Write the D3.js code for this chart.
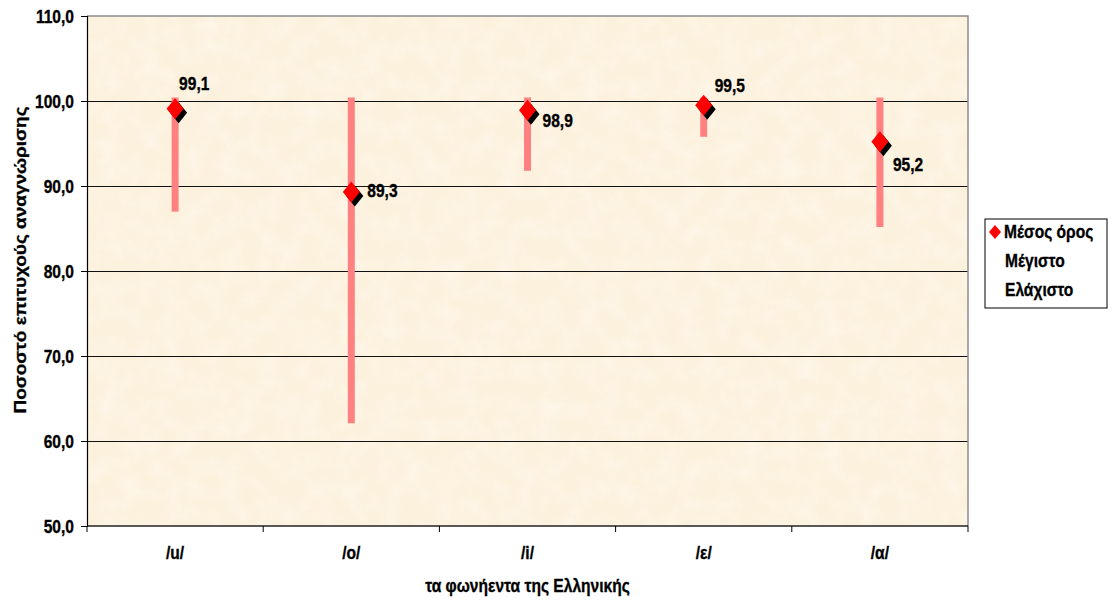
<!DOCTYPE html>
<html><head><meta charset="utf-8">
<script src="https://cdn.jsdelivr.net/npm/d3@7"></script>
<style>
  body { margin: 0; background: #fff; }
  text { font-family: "Liberation Sans", Arial, sans-serif; font-weight: bold; fill: #000; stroke: #000; stroke-width: 0.35px; }
</style></head>
<body>
<svg id="chart" width="1112" height="600"></svg>
<script>
// Recognition rate per Greek vowel: mean, maximum and minimum (%)
const vowels = ["/u/", "/o/", "/i/", "/ε/", "/α/"];
const meanScore = [99.1, 89.3, 98.9, 99.5, 95.2];
const maxScore = [100, 100, 100, 100, 100];
const minScore = [87.4, 62.5, 92.2, 96.2, 85.6];
const yTicks = [50, 60, 70, 80, 90, 100, 110];
const legendLabels = ["Μέσος όρος", "Μέγιστο", "Ελάχιστο"];
const yTitle = "Ποσοστό επιτυχούς αναγνώρισης";
const xTitle = "τα φωνήεντα της Ελληνικής";

// value label nudges [dx, dy] from each marker centre
const labelNudge = [[4, -19], [16, 5], [15, 17], [11, -13], [13, 29]];

const FS = 19, SQ = 0.82;           // font size and squeeze across the glyph height
const plot = { left: 87, right: 968, top: 16, bottom: 526 };

const svg = d3.select("#chart");
const fmt = d3.formatLocale({ decimal: ",", thousands: ".", grouping: [3], currency: ["", "€"] }).format(".1f");

const x = d3.scaleBand().domain(vowels).range([plot.left, plot.right]).padding(0);
const y = d3.scaleLinear().domain([50, 110]).range([plot.bottom, plot.top]);

// text helper: horizontal text is narrowed, rotated text is thinned
function label(g, str, px, py, anchor, rot) {
  const t = rot ? ` rotate(${rot}) scale(1,${SQ})` : ` scale(${SQ},1)`;
  return g.append("text")
    .attr("transform", `translate(${px},${py})` + t)
    .attr("text-anchor", anchor || "start")
    .style("font-size", FS + "px")
    .text(str);
}

// paper-like plot background
const defs = svg.append("defs");
const f = defs.append("filter").attr("id", "paper")
  .attr("x", 0).attr("y", 0).attr("width", "100%").attr("height", "100%");
f.append("feTurbulence").attr("type", "fractalNoise").attr("baseFrequency", "0.05")
  .attr("numOctaves", 3).attr("seed", 7).attr("result", "n");
f.append("feColorMatrix").attr("in", "n").attr("type", "matrix")
  .attr("values", "0 0 0 0 1  0 0 0 0 0.99  0 0 0 0 0.97  1.4 0 0 0 -0.55");

svg.append("rect")
  .attr("x", plot.left).attr("y", plot.top)
  .attr("width", plot.right - plot.left).attr("height", plot.bottom - plot.top)
  .attr("fill", "#fcf1dd");
svg.append("rect")
  .attr("x", plot.left).attr("y", plot.top)
  .attr("width", plot.right - plot.left).attr("height", plot.bottom - plot.top)
  .attr("fill", "#fff").attr("filter", "url(#paper)").attr("opacity", 0.55);

// gridlines
svg.append("g").selectAll("line")
  .data(yTicks.filter(t => t > 50 && t < 110))
  .join("line")
  .attr("x1", plot.left).attr("x2", plot.right)
  .attr("y1", d => Math.round(y(d)) + 0.5).attr("y2", d => Math.round(y(d)) + 0.5)
  .attr("stroke", "#111").attr("stroke-width", 1);

// plot frame (top/right)
svg.append("path")
  .attr("d", `M${plot.left},${plot.top}H${plot.right}V${plot.bottom}`)
  .attr("fill", "none").attr("stroke", "#8c8c8c").attr("stroke-width", 1.5);

// y axis
const yAxis = svg.append("g").attr("transform", `translate(${plot.left},0)`)
  .call(d3.axisLeft(y).tickValues(yTicks).tickSize(6).tickFormat(fmt));
yAxis.select(".domain").attr("stroke", "#000").attr("stroke-width", 1.2);
yAxis.selectAll(".tick line").attr("stroke", "#000");
yAxis.selectAll(".tick text").remove();
yAxis.selectAll(".tick").each(function (d) {
  label(d3.select(this), fmt(d), -13, 6, "end");
});

// x axis (ticks at category boundaries)
const xAxis = svg.append("g").attr("transform", `translate(0,${plot.bottom})`);
xAxis.append("line").attr("x1", plot.left).attr("x2", plot.right)
  .attr("stroke", "#222").attr("stroke-width", 1.6);
const bounds = vowels.map(v => x(v)).concat([x(vowels[vowels.length - 1]) + x.bandwidth()]);
xAxis.selectAll("line.tk").data(bounds).join("line").attr("class", "tk")
  .attr("x1", d => d).attr("x2", d => d).attr("y1", 0).attr("y2", 6)
  .attr("stroke", "#000");
vowels.forEach(v => label(xAxis, v, x(v) + x.bandwidth() / 2, 33, "middle"));

// axis titles
label(svg, xTitle, (plot.left + plot.right) / 2, 592, "middle");
label(svg, yTitle, 26, 260, "middle", -90);

// high-low bars
const cx = i => x(vowels[i]) + x.bandwidth() / 2;
svg.append("g").selectAll("line")
  .data(vowels.map((v, i) => i))
  .join("line")
  .attr("x1", cx).attr("x2", cx)
  .attr("y1", i => y(maxScore[i])).attr("y2", i => y(minScore[i]))
  .attr("stroke", "#ff8080").attr("stroke-width", 7).attr("stroke-linecap", "square");

// mean markers with shadow
const diamond = (w, h) => `M0,${-h}L${w},0L0,${h}L${-w},0Z`;
const marks = svg.append("g").selectAll("g")
  .data(vowels.map((v, i) => i))
  .join("g")
  .attr("transform", i => `translate(${cx(i)},${y(meanScore[i])})`);
marks.append("path").attr("d", diamond(8.5, 10.5))
  .attr("transform", "translate(3.5,4)").attr("fill", "#000");
marks.append("path").attr("d", diamond(8.5, 10.5)).attr("fill", "#ff0000");

// value labels
vowels.forEach((v, i) => {
  label(svg, fmt(meanScore[i]), cx(i) + labelNudge[i][0], y(meanScore[i]) + labelNudge[i][1], "start");
});

// legend
const lg = svg.append("g").attr("transform", "translate(985,219)");
lg.append("rect").attr("width", 122).attr("height", 89)
  .attr("fill", "#fff").attr("stroke", "#000").attr("stroke-width", 1);
legendLabels.forEach((t, i) => {
  const by = 19 + i * 29;
  if (i === 0) {
    lg.append("path").attr("d", diamond(6, 7))
      .attr("transform", `translate(10,${by - 6})`).attr("fill", "#ff0000");
  }
  label(lg, t, i === 0 ? 19 : 20, by, "start");
});
</script>
</body></html>
